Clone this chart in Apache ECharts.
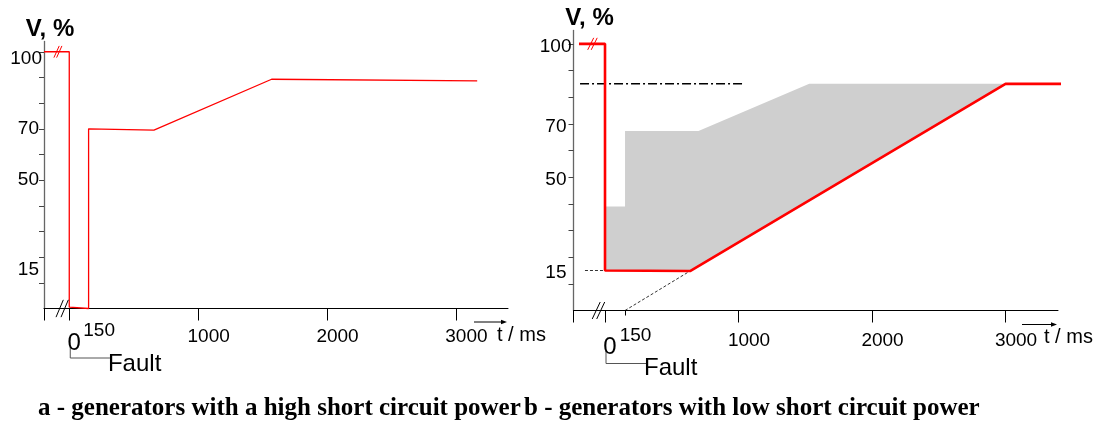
<!DOCTYPE html>
<html>
<head>
<meta charset="utf-8">
<title>Voltage ride-through curves</title>
<script src="https://cdn.jsdelivr.net/npm/echarts@6/dist/echarts.min.js"></script>
<style>
  html, body { margin: 0; padding: 0; background: #fff; }
  #chart { width: 1110px; height: 425px; }
</style>
</head>
<body>
<div id="chart"></div>
<script>
// a - generators with a high short circuit power (t in ms, V in %)
const timeA = [-196, 0, 0, 150, 150, 657, 1570, 3165];
const voltA = [100, 100, 0.5, 0, 70, 69.5, 89.3, 88.7];

// b - generators with low short circuit power
const timeB = [-195, 0, 0, 637, 3000, 3446];
const voltB = [100, 100, 15, 14.8, 85, 85];
// grey band above the limit curve
const bandTime = [0, 150, 150, 700, 1530, 3000, 637, 0];
const bandVolt = [39, 39, 67.3, 67.3, 85, 85, 14.8, 15];
// dash-dot reference level
const refTime = [-187, 1045];
const refVolt = [85, 85];
// dashed helper lines
const guideTime = [-150, 0];
const guideVolt = [15, 15];
const extTime = [150, 637];
const extVolt = [0, 14.8];

// axis ticks and labels
const xTickValues = [0, 1000, 2000, 3000];
const xLabelValues = [0, 150, 1000, 2000, 3000];
const yTickValues = [10, 20, 30, 40, 50, 60, 70, 80, 90, 100];
const yLabelValues = [15, 50, 70, 100];

const FONT = '"Liberation Sans", Arial, sans-serif';
const SERIF = '"Liberation Serif", "Times New Roman", serif';

const panels = [
  {
    left: 44, width: 464, top: 41.5, height: 267, xMin: -196, xMax: 3404, yMax: 104,
    nameShift: 12, xMargin: 13, zPad: 10, nPad: 6, yPad: 0, yPad100: 14, yPadR: 3, yPadR100: 0,
    redWidth: 1.3, redBreak: [-88, 100, 5.3, 11.7, 2.7], axisBreak: [-55, 0, 7.3, 17.3, 5],
    arrowFrom: 34, arrowDy: 13.5, unitDx: -11,
    fault: {vTop: 37.5, vBot: 49.5, textX: 38.7, textY: 56},
    caption: 'a - generators with a high short circuit power', captionX: 38
  },
  {
    left: 573.5, width: 484.5, top: 30.5, height: 280, xMin: -236, xMax: 3393, yMax: 105,
    nameShift: 32, xMargin: 16, zPad: 9, nPad: 5, yPad: 5, yPad100: 5, yPadR: 5, yPadR100: 0,
    redWidth: 2.6, redBreak: [-94, 100, 6, 12, 3.5], axisBreak: [-49, 0, 8, 17, 4.5],
    arrowFrom: 36, arrowDy: 14, unitDx: -14,
    fault: {vTop: 40, vBot: 53, textX: 39, textY: 58},
    caption: 'b - generators with low short circuit power', captionX: 524
  }
];

function zip(xs, ys) {
  return xs.map((x, i) => [x, ys[i]]);
}

function makeXAxis(p, i) {
  return {
    type: 'value', gridIndex: i, position: 'bottom', min: p.xMin, max: p.xMax,
    axisLine: { show: true, onZero: false, lineStyle: { color: '#000', width: 1 } },
    axisTick: { show: true, customValues: [p.xMin].concat(xTickValues), length: 12, lineStyle: { color: '#000', width: 1 } },
    axisLabel: {
      customValues: xLabelValues, margin: p.xMargin, color: '#000', fontFamily: FONT, fontSize: 19,
      formatter: function (v) {
        if (v === 0) return '{z|0}';
        if (v === 150) return '{s|150}';
        return '{n|' + v + '}';
      },
      rich: {
        z: { fontSize: 24, fontFamily: FONT, color: '#000', padding: [p.zPad, 0, 0, 10] },
        s: { fontSize: 19, fontFamily: FONT, color: '#000', padding: [0, 0, 0, 21] },
        n: { fontSize: 19, fontFamily: FONT, color: '#000', padding: [p.nPad, 0, 0, 21] }
      }
    },
    splitLine: { show: false }
  };
}

function makeYAxis(p, i) {
  return {
    type: 'value', gridIndex: i, min: 0, max: p.yMax,
    name: 'V, %', nameLocation: 'end', nameGap: 0, nameMoveOverlap: false,
    nameTextStyle: { fontFamily: FONT, fontSize: 24, fontWeight: 'bold', color: '#000', padding: [0, 0, 0, p.nameShift] },
    axisLine: { show: true, onZero: false, lineStyle: { color: '#666', width: 1.3 } },
    axisTick: { show: true, customValues: yTickValues, length: 5, lineStyle: { color: '#444', width: 1 } },
    axisLabel: {
      customValues: yLabelValues, margin: 2, color: '#000', fontFamily: FONT, fontSize: 19,
      formatter: function (v) { return (v === 100 ? '{h|' : '{o|') + v + '}'; },
      rich: {
        h: { fontSize: 19, fontFamily: FONT, color: '#000', padding: [p.yPad100, p.yPadR100, 0, 0] },
        o: { fontSize: 19, fontFamily: FONT, color: '#000', padding: [p.yPad, p.yPadR, 0, 0] }
      }
    },
    splitLine: { show: false }
  };
}

// two short parallel strokes "//" centred on a data point
function breakSeries(axisIdx, mark, color) {
  const w = mark[2], h = mark[3], gap = mark[4];
  return {
    type: 'custom', xAxisIndex: axisIdx, yAxisIndex: axisIdx, clip: false, silent: true, z: 10,
    data: [[mark[0], mark[1]]],
    renderItem: function (params, api) {
      const c = api.coord([api.value(0), api.value(1)]);
      return {
        type: 'group',
        children: [-gap / 2, gap / 2].map(d => ({
          type: 'line',
          shape: { x1: c[0] + d - w / 2, y1: c[1] + h / 2, x2: c[0] + d + w / 2, y2: c[1] - h / 2 },
          style: { stroke: color, lineWidth: 1 }
        }))
      };
    }
  };
}

const xAxes = panels.map(makeXAxis);
// short tick at 150 ms in panel b
xAxes.push({
  type: 'value', gridIndex: 1, position: 'bottom', min: panels[1].xMin, max: panels[1].xMax,
  axisLine: { show: false },
  axisTick: { show: true, customValues: [150], length: 5, lineStyle: { color: '#000', width: 1 } },
  axisLabel: { show: false },
  splitLine: { show: false }
});

const option = {
  animation: false,
  backgroundColor: '#fff',
  grid: panels.map(p => ({ left: p.left, top: p.top, width: p.width, height: p.height, outerBoundsMode: 'none' })),
  xAxis: xAxes,
  yAxis: panels.map(makeYAxis),
  series: [
    {
      type: 'custom', xAxisIndex: 1, yAxisIndex: 1, clip: false, silent: true, z: 1,
      data: zip(bandTime, bandVolt),
      renderItem: function (params, api) {
        if (params.dataIndex !== 0) return null;
        const pts = bandTime.map((t, i) => api.coord([t, bandVolt[i]]));
        return { type: 'polygon', shape: { points: pts }, style: { fill: '#cfcfcf' } };
      }
    },
    {
      type: 'line', xAxisIndex: 1, yAxisIndex: 1, data: zip(refTime, refVolt), symbol: 'none', z: 3,
      lineStyle: { color: '#000', width: 1.5, type: [9, 3, 2, 3] }
    },
    {
      type: 'line', xAxisIndex: 1, yAxisIndex: 1, data: zip(guideTime, guideVolt), symbol: 'none', z: 3,
      lineStyle: { color: '#000', width: 0.8, type: [3, 2] }
    },
    {
      type: 'line', xAxisIndex: 1, yAxisIndex: 1, data: zip(extTime, extVolt), symbol: 'none', z: 3,
      lineStyle: { color: '#000', width: 0.8, type: [3, 2] }
    },
    {
      type: 'line', xAxisIndex: 0, yAxisIndex: 0, data: zip(timeA, voltA), symbol: 'none', z: 5, clip: false,
      lineStyle: { color: '#ff0000', width: panels[0].redWidth }
    },
    {
      type: 'line', xAxisIndex: 1, yAxisIndex: 1, data: zip(timeB, voltB), symbol: 'none', z: 5, clip: false,
      lineStyle: { color: '#ff0000', width: panels[1].redWidth }
    },
    breakSeries(0, panels[0].redBreak, '#ff0000'),
    breakSeries(1, panels[1].redBreak, '#ff0000'),
    breakSeries(0, panels[0].axisBreak, '#000'),
    breakSeries(1, panels[1].axisBreak, '#000')
  ]
};

const chart = echarts.init(document.getElementById('chart'), null, { renderer: 'canvas' });
chart.setOption(option);

// arrows, "t / ms", "Fault" brackets and captions placed from the axes
function buildAnnotations() {
  const g = [];
  panels.forEach((p, i) => {
    const end = chart.convertToPixel({ gridIndex: i }, [p.xMax, 0]);
    const o = chart.convertToPixel({ gridIndex: i }, [0, 0]);
    const ay = end[1] + p.arrowDy;
    g.push({
      type: 'line', silent: true,
      shape: { x1: end[0] - p.arrowFrom, y1: ay, x2: end[0] - 5, y2: ay },
      style: { stroke: '#000', lineWidth: 1 }
    });
    g.push({
      type: 'polygon', silent: true,
      shape: { points: [[end[0] - 1, ay], [end[0] - 7, ay - 2.2], [end[0] - 7, ay + 2.2]] },
      style: { fill: '#000' }
    });
    g.push({
      type: 'text', silent: true, x: end[0] + p.unitDx, y: end[1] + 27,
      style: { text: 't / ms', font: '20px ' + FONT, fill: '#000', align: 'left', verticalAlign: 'middle' }
    });
    const f = p.fault;
    g.push({
      type: 'polyline', silent: true,
      shape: { points: [[o[0] + 1, o[1] + f.vTop], [o[0] + 1, o[1] + f.vBot], [o[0] + f.textX + 2, o[1] + f.vBot]] },
      style: { stroke: '#555', lineWidth: 1, fill: null }
    });
    g.push({
      type: 'text', silent: true, x: o[0] + f.textX, y: o[1] + f.textY,
      style: { text: 'Fault', font: '24px ' + FONT, fill: '#000', align: 'left', verticalAlign: 'middle' }
    });
    g.push({
      type: 'text', silent: true, x: p.captionX, y: 409,
      style: { text: p.caption, font: 'bold 25px ' + SERIF, fill: '#000', align: 'left', verticalAlign: 'middle' }
    });
  });
  return g;
}

chart.setOption({ graphic: buildAnnotations() });
</script>
</body>
</html>
